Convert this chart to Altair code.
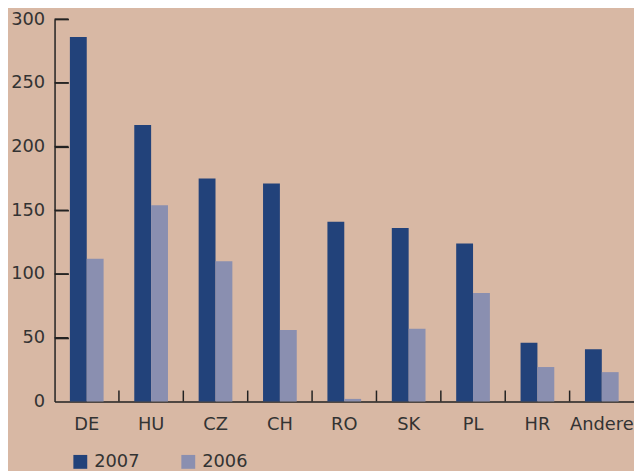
import altair as alt
import pandas as pd

categories = ["DE", "HU", "CZ", "CH", "RO", "SK", "PL", "HR", "Andere"]
values_2007 = [286, 217, 175, 171, 141, 136, 124, 46, 41]
values_2006 = [112, 154, 110, 56, 2, 57, 85, 27, 23]
series = ["2007", "2006"]
y_ticks = [0, 50, 100, 150, 200, 250, 300]

rows = []
for c, a, b in zip(categories, values_2007, values_2006):
    rows.append({"land": c, "jahr": "2007", "wert": a})
    rows.append({"land": c, "jahr": "2006", "wert": b})
df = pd.DataFrame(rows)

AXIS_COLOR = "#222222"
TEXT_COLOR = "#333333"
PLOT_W = 585
PLOT_H = 386

x_axis = alt.Axis(title=None, labelAngle=0, ticks=False, grid=False,
                  domainColor=AXIS_COLOR, domainWidth=1.5,
                  labelFontSize=18, labelPadding=14, labelColor=TEXT_COLOR)
y_axis = alt.Axis(title=None, values=y_ticks, ticks=False, grid=False,
                  domainColor=AXIS_COLOR, domainWidth=1.5,
                  labelFontSize=18, labelPadding=10, labelColor=TEXT_COLOR)
# second y axis, moved onto the left edge so its ticks point into the plot
y_tick_axis = alt.Axis(title=None, orient="right", offset=-PLOT_W, values=y_ticks[1:],
                       labels=False, domain=False, grid=False, ticks=True,
                       tickSize=14, tickWidth=1.5, tickColor=AXIS_COLOR)
x_scale = alt.Scale(paddingInner=0, paddingOuter=0)
y_scale = alt.Scale(domain=[0, 300], nice=False)

bars = alt.Chart(df).mark_bar().encode(
    x=alt.X("land:N", sort=categories, scale=x_scale, axis=x_axis),
    xOffset=alt.XOffset("jahr:N", sort=series,
                        scale=alt.Scale(paddingInner=0, paddingOuter=0.91)),
    y=alt.Y("wert:Q", scale=y_scale, axis=y_axis),
    color=alt.Color("jahr:N", sort=series,
                    scale=alt.Scale(domain=series, range=["#22427A", "#8A8FB0"]),
                    legend=alt.Legend(title=None, orient="none", legendX=17, legendY=438,
                                      direction="horizontal", symbolType="square",
                                      symbolSize=196, symbolStrokeWidth=0,
                                      labelFontSize=18, labelColor=TEXT_COLOR,
                                      labelOffset=5, columnPadding=40, padding=0)),
)

xt = pd.DataFrame({"land": categories[1:]})
x_ticks = alt.Chart(xt).mark_rule(strokeWidth=1.5).encode(
    x=alt.X("land:N", sort=categories, scale=x_scale, axis=x_axis, bandPosition=0),
    y=alt.value(PLOT_H),
    y2=alt.value(PLOT_H - 11),
    color=alt.value(AXIS_COLOR),
)

yt = pd.DataFrame({"wert": y_ticks[1:]})
y_tick_marks = alt.Chart(yt).mark_rule(strokeWidth=1.5).encode(
    y=alt.Y("wert:Q", scale=y_scale, axis=y_tick_axis),
    x=alt.value(0),
    x2=alt.value(14),
    color=alt.value(AXIS_COLOR),
)

chart = alt.layer(bars, x_ticks, y_tick_marks).resolve_scale(
    y="shared"
).resolve_axis(
    y="independent"
).properties(
    width=PLOT_W,
    height=PLOT_H,
    background="#D8B8A4",
    autosize=alt.AutoSizeParams(type="none"),
    padding={"left": 47, "top": 9, "right": 0, "bottom": 68},
).configure(
    font="DejaVu Sans",
    view=alt.ViewConfig(stroke="transparent", strokeWidth=0),
)

chart.save("out.html", embed_options={"renderer": "svg", "actions": False})
